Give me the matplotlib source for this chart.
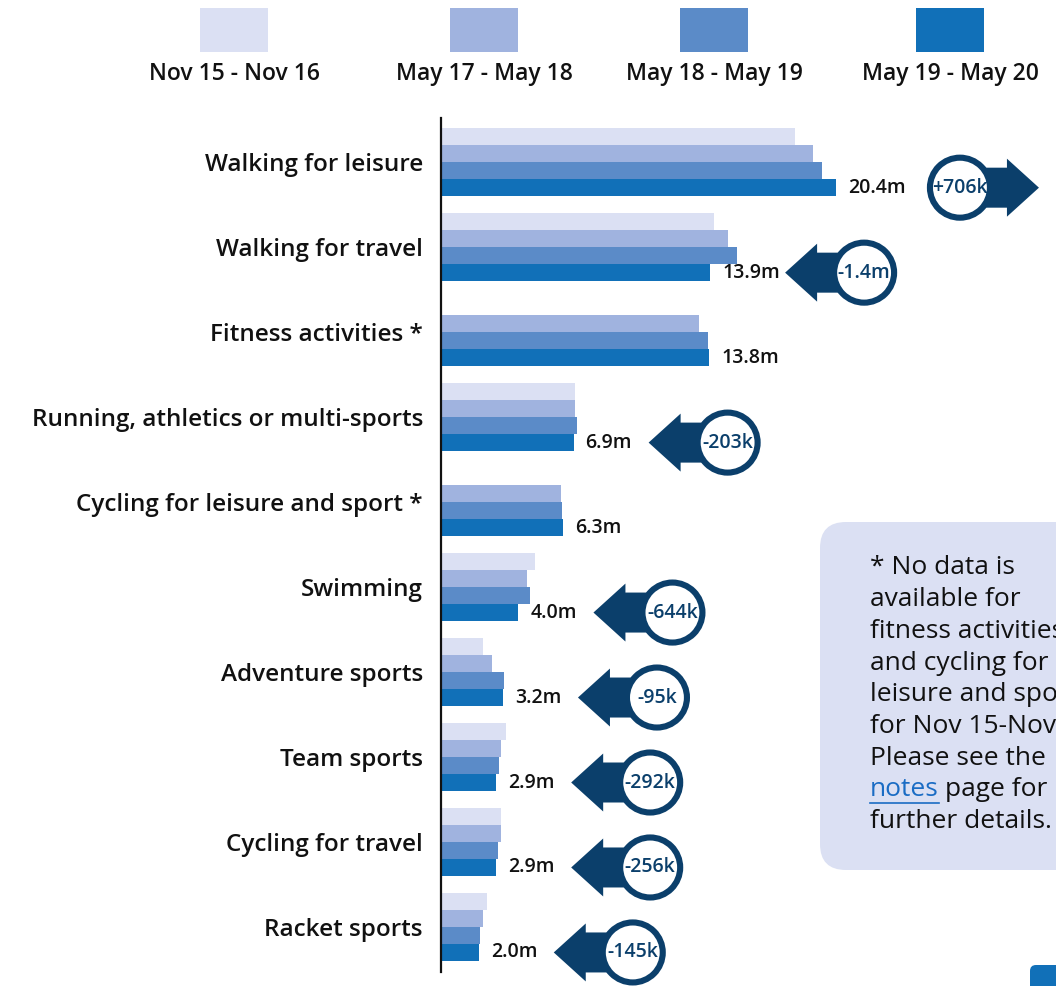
import numpy as np
import matplotlib.pyplot as plt
from matplotlib.patches import FancyBboxPatch, Circle, Polygon, Rectangle

plt.rcParams['font.family'] = ['Open Sans', 'DejaVu Sans']

categories = ["Walking for leisure", "Walking for travel", "Fitness activities *",
              "Running, athletics or multi-sports", "Cycling for leisure and sport *",
              "Swimming", "Adventure sports", "Team sports", "Cycling for travel",
              "Racket sports"]
periods = ["Nov 15 - Nov 16", "May 17 - May 18", "May 18 - May 19", "May 19 - May 20"]

# millions of people
nov15_16 = [18.3, 14.1, np.nan, 6.9, np.nan, 4.85, 2.15, 3.35, 3.1, 2.4]
may17_18 = [19.2, 14.8, 13.35, 6.9, 6.2, 4.45, 2.65, 3.1, 3.1, 2.15]
may18_19 = [19.7, 15.3, 13.8, 7.05, 6.25, 4.6, 3.25, 3.0, 2.95, 2.0]
may19_20 = [20.4, 13.9, 13.85, 6.85, 6.3, 4.0, 3.2, 2.85, 2.85, 1.95]
value_labels = ["20.4m", "13.9m", "13.8m", "6.9m", "6.3m", "4.0m", "3.2m", "2.9m", "2.9m", "2.0m"]
changes = ["+706k", "-1.4m", None, "-203k", None, "-644k", "-95k", "-292k", "-256k", "-145k"]

colors = ["#dbe0f3", "#a0b3df", "#5b8bc8", "#1170b8"]
navy = "#0b3f6b"

W, H = 1056, 986
fig = plt.figure(figsize=(W / 100, H / 100), dpi=100)

# main bar axes
ax = fig.add_axes([441 / W, 14 / H, (W - 441) / W, 854 / H])
series = [nov15_16, may17_18, may18_19, may19_20]
offsets = [-0.3, -0.1, 0.1, 0.3]
y = np.arange(len(categories))
for vals, off, c in zip(series, offsets, colors):
    ax.barh(y + off, vals, height=0.2, color=c, linewidth=0)

ax.set_xlim(0, (W - 441) / 19.36)
ax.set_ylim(9.53, -0.52)
ax.set_yticks(y)
ax.set_yticklabels(categories, fontsize=17.5, fontweight='semibold', color='#111111')
ax.tick_params(axis='y', length=0, pad=13)
ax.set_xticks([])
for s in ['top', 'right', 'bottom']:
    ax.spines[s].set_visible(False)
ax.spines['left'].set_linewidth(1.6)
ax.spines['left'].set_color('#111111')
ax.patch.set_alpha(0)

for i, (v, lab) in enumerate(zip(may19_20, value_labels)):
    ax.annotate(lab, xy=(v, i + 0.3), xytext=(12, 0), textcoords='offset pixels',
                ha='left', va='center', fontsize=14, fontweight='semibold', color='#111111')

# overlay in pixel coordinates
ov = fig.add_axes([0, 0, 1, 1])
ov.set_xlim(0, W)
ov.set_ylim(H, 0)
ov.axis('off')
ov.patch.set_alpha(0)


def to_px(x, yv):
    dx, dy = ax.transData.transform((x, yv))
    return dx, H - dy


def badge(cx, cy, text, direction):
    d = direction
    tip = cx + d * 79
    base = cx + d * 47
    pts = [(cx, cy - 20), (base, cy - 20), (base, cy - 29), (tip, cy),
           (base, cy + 29), (base, cy + 20), (cx, cy + 20)]
    ov.add_patch(Polygon(pts, closed=True, facecolor=navy, edgecolor='none', zorder=3))
    ov.add_patch(Circle((cx, cy), 30, facecolor='white', edgecolor=navy, linewidth=4.4, zorder=4))
    ov.text(cx, cy, text, ha='center', va='center', fontsize=14, fontweight='semibold',
            color=navy, zorder=5)


for i, ch in enumerate(changes):
    if ch is None:
        continue
    bx, by = to_px(may19_20[i], i + 0.3)
    if ch.startswith('+'):
        badge(bx + 124, by, ch, 1)
    else:
        badge(bx + 154, by, ch, -1)

# legend
leg_x = [234, 484, 714, 950]
for lx, c, p in zip(leg_x, colors, periods):
    ov.add_patch(Rectangle((lx - 34, 8), 68, 44, facecolor=c, edgecolor='none'))
    ov.text(lx, 74, p, ha='center', va='center', fontsize=16.5, fontweight='semibold', color='#111111')

# notes box
ov.add_patch(FancyBboxPatch((820, 522), 320, 348, boxstyle="round,pad=0,rounding_size=26",
                            facecolor="#dbe0f3", edgecolor='none', zorder=1))
note_lines = ["* No data is", "available for", "fitness activities", "and cycling for",
              "leisure and sport", "for Nov 15-Nov 16", "Please see the", None, "further details."]
for k, line in enumerate(note_lines):
    ly = 568 + k * 31.7
    if line is None:
        t = ov.text(870, ly, "notes", ha='left', va='center', fontsize=19, color='#1a6cc4', zorder=2)
        fig.canvas.draw()
        bb = t.get_window_extent(fig.canvas.get_renderer())
        x0, x1 = bb.x0, bb.x1
        ov.plot([x0, x1], [ly + 13, ly + 13], color='#1a6cc4', linewidth=1.2, zorder=2)
        ov.text(x1 + 6, ly, "page for", ha='left', va='center', fontsize=19, color='#111111', zorder=2)
    else:
        ov.text(870, ly, line, ha='left', va='center', fontsize=19, color='#111111', zorder=2)

# corner button fragment
ov.add_patch(FancyBboxPatch((1030, 965), 60, 40, boxstyle="round,pad=0,rounding_size=6",
                            facecolor="#1170b8", edgecolor='none'))

fig.savefig("out.png", dpi=100)
